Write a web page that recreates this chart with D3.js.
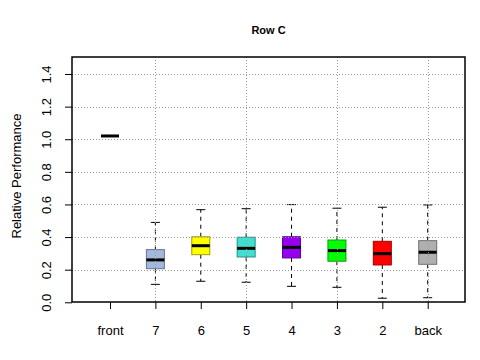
<!DOCTYPE html>
<html><head><meta charset="utf-8">
<script src="https://cdn.jsdelivr.net/npm/d3@7"></script>
<style>body{margin:0;background:#fff}svg{display:block}</style>
</head><body>
<script>
const categories = ["front","7","6","5","4","3","2","back"];
const whiskerLow  = [1.02, 0.11, 0.129, 0.123, 0.098, 0.092, 0.025, 0.028];
const q1          = [1.02, 0.206, 0.292, 0.278, 0.272, 0.252, 0.229, 0.233];
const medians     = [1.02, 0.26, 0.347, 0.331, 0.337, 0.317, 0.298, 0.307];
const q3          = [1.02, 0.323, 0.402, 0.399, 0.402, 0.382, 0.374, 0.378];
const whiskerHigh = [1.02, 0.49, 0.568, 0.574, 0.599, 0.577, 0.583, 0.597];
const fills = ["#ffffff","#a2b8dc","#ffff00","#40e0d0","#9400f0","#00ff00","#ff0000","#b0b0b0"];
const yTicks = [0,0.2,0.4,0.6,0.8,1.0,1.2,1.4];
const gridX = ["7","5","3","back"];

const W=480,H=360, L=72, R=465, T=57, B=302;
const svg=d3.select("body").append("svg").attr("width",W).attr("height",H);
const font="Liberation Sans, Arial, Helvetica, sans-serif";

const y=d3.scaleLinear().domain([0,1.4]).range([302.3,74]);
const xs=d3.scalePoint().domain(categories).range([110,427.7]);
const x=c=>xs(c);
const bw=18;

const data=categories.map((c,i)=>({c,lo:whiskerLow[i],q1:q1[i],med:medians[i],q3:q3[i],hi:whiskerHigh[i],fill:fills[i]}));

const g=svg.append("g");
data.forEach(d=>{
  const cx=x(d.c);
  if(d.hi!==d.q3){
    g.append("line").attr("x1",cx).attr("x2",cx).attr("y1",y(d.q3)).attr("y2",y(d.hi)).attr("stroke","#000").attr("stroke-dasharray","4,4");
    g.append("line").attr("x1",cx).attr("x2",cx).attr("y1",y(d.q1)).attr("y2",y(d.lo)).attr("stroke","#000").attr("stroke-dasharray","4,4");
    g.append("line").attr("x1",cx-bw/4).attr("x2",cx+bw/4).attr("y1",y(d.hi)).attr("y2",y(d.hi)).attr("stroke","#000");
    g.append("line").attr("x1",cx-bw/4).attr("x2",cx+bw/4).attr("y1",y(d.lo)).attr("y2",y(d.lo)).attr("stroke","#000");
    g.append("rect").attr("x",cx-bw/2).attr("y",y(d.q3)).attr("width",bw).attr("height",y(d.q1)-y(d.q3))
      .attr("fill",d.fill).attr("stroke",d3.color(d.fill).darker(1.3)).attr("stroke-width",1);
  }
  g.append("line").attr("x1",cx-bw/2).attr("x2",cx+bw/2).attr("y1",y(d.med)).attr("y2",y(d.med)).attr("stroke","#000").attr("stroke-width",3);
});

// grid (drawn over boxes)
const grid=svg.append("g").attr("stroke","#9a9a9a").attr("stroke-dasharray","1,2").attr("stroke-width",1);
yTicks.slice(1).forEach(t=>grid.append("line").attr("x1",L).attr("x2",R).attr("y1",Math.round(y(t))+0.5).attr("y2",Math.round(y(t))+0.5));
gridX.forEach(c=>grid.append("line").attr("x1",Math.round(x(c))+0.5).attr("x2",Math.round(x(c))+0.5).attr("y1",T).attr("y2",B));

// frame
svg.append("rect").attr("x",L).attr("y",T).attr("width",R-L).attr("height",B-T).attr("fill","none").attr("stroke","#000").attr("stroke-width",1.5);

// y axis
const ya=svg.append("g").attr("transform",`translate(${L},0)`)
  .call(d3.axisLeft(y).tickValues(yTicks).tickFormat(d3.format(".1f")).tickSize(7));
ya.select(".domain").remove();
ya.selectAll("line").attr("stroke","#000");
ya.selectAll(".tick text").attr("font-family",font).attr("font-size",13).attr("fill","#000")
  .attr("text-anchor","middle").attr("transform","rotate(-90)").attr("x",0).attr("y",-21).attr("dy","0");

// x axis
const xa=svg.append("g").attr("transform",`translate(0,${B})`)
  .call(d3.axisBottom(xs).tickSize(7));
xa.select(".domain").remove();
xa.selectAll("line").attr("stroke","#000");
xa.selectAll(".tick text").attr("font-family",font).attr("font-size",13).attr("fill","#000").attr("y",33).attr("dy","0");

svg.append("text").attr("x",268.5).attr("y",34).attr("text-anchor","middle").attr("font-family",font)
  .attr("font-weight","bold").attr("font-size",11).text("Row C");
svg.append("text").attr("transform",`translate(21,176) rotate(-90)`).attr("text-anchor","middle")
  .attr("font-family",font).attr("font-size",13).text("Relative Performance");
</script>
</body></html>
